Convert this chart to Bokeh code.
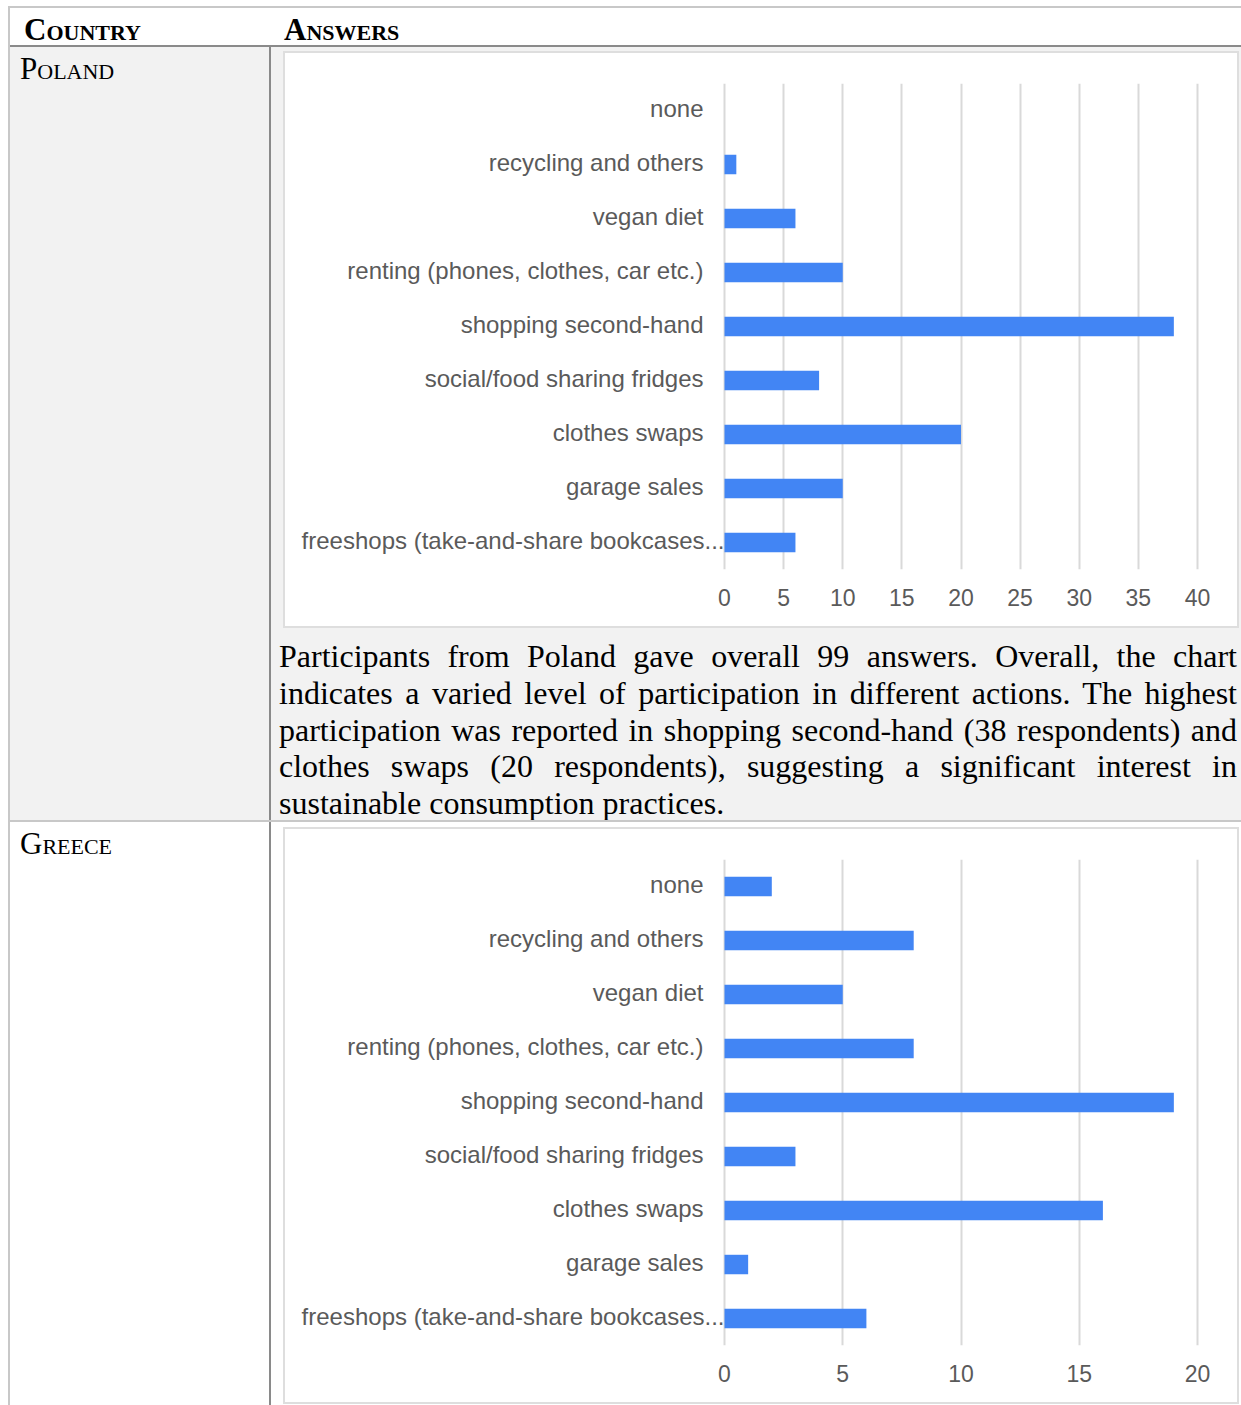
from bokeh.plotting import figure
from bokeh.models import ColumnDataSource, Range1d, FactorRange, FixedTicker, Div
from bokeh.core.properties import value
from bokeh.layouts import column, row
from bokeh.embed import file_html
from bokeh.resources import INLINE

# ---- data -------------------------------------------------------------
categories = [
    "none",
    "recycling and others",
    "vegan diet",
    "renting (phones, clothes, car etc.)",
    "shopping second-hand",
    "social/food sharing fridges",
    "clothes swaps",
    "garage sales",
    "freeshops (take-and-share bookcases...",
]
poland_counts = [0, 1, 6, 10, 38, 8, 20, 10, 6]
greece_counts = [2, 8, 5, 8, 19, 3, 16, 1, 6]
poland_ticks = [0, 5, 10, 15, 20, 25, 30, 35, 40]
greece_ticks = [0, 5, 10, 15, 20]

header_country = "Country"
header_answers = "Answers"
countries = ["Poland", "Greece"]
poland_text = (
    "Participants from Poland gave overall 99 answers. Overall, the chart "
    "indicates a varied level of participation in different actions. The highest "
    "participation was reported in shopping second-hand (38 respondents) and "
    "clothes swaps (20 respondents), suggesting a significant interest in "
    "sustainable consumption practices."
)

# ---- styling ----------------------------------------------------------
BAR = "#4285f4"
GRID = "#d9d9d9"
LABEL = "#5a5a5a"
SANS = "Liberation Sans"
SERIF = "Liberation Serif"
ROW_GREY = "#f2f2f2"
LINE_LIGHT = "#c8c8c8"
LINE_DARK = "#8a8a8a"
BOX = "#dedede"

# chart geometry (pixels)
FIG_W, FIG_H = 952, 573
BORDER_L, BORDER_R = 10, 38     # canvas space left/right of the plot frame
ZERO_PX = 429                   # position of the value 0 inside the frame
SPAN_PX = 473                   # pixel length of the 0..max interval
LABEL_GAP = 21                  # gap between category label and the 0 line


def block(w, h, color):
    return Div(text="", width=w, height=h, margin=0,
               styles={"background-color": color})


def bar_chart(counts, ticks):
    frame_w = FIG_W - BORDER_L - BORDER_R
    per_unit = SPAN_PX / ticks[-1]
    x_range = Range1d(-ZERO_PX / per_unit, (frame_w - ZERO_PX) / per_unit)

    # truncated labels are drawn flush against the axis
    offsets = [0 if c.endswith("...") else -LABEL_GAP for c in categories]
    src = ColumnDataSource(dict(cat=categories, n=counts, dx=offsets,
                                zero=[0] * len(categories)))
    p = figure(
        width=FIG_W, height=FIG_H,
        y_range=FactorRange(factors=categories[::-1]),
        x_range=x_range,
        output_backend="svg", toolbar_location=None, title=None,
        min_border_left=BORDER_L, min_border_right=BORDER_R,
        min_border_top=30, min_border_bottom=57,
    )
    p.background_fill_color = "white"
    p.border_fill_color = "white"
    p.outline_line_color = None

    p.hbar(y="cat", left=0, right="n", height=0.36, source=src,
           fill_color=BAR, line_color=None)

    p.text(x="zero", y="cat", text="cat", x_offset="dx", y_offset=-2, source=src,
           text_align="right", text_baseline="middle",
           text_font=value(SANS), text_font_size="24px", text_color=LABEL)

    p.ygrid.visible = False
    p.xgrid.ticker = FixedTicker(ticks=ticks)
    p.xgrid.grid_line_color = GRID
    p.xgrid.grid_line_width = 2
    p.xaxis.ticker = FixedTicker(ticks=ticks)
    p.xaxis.axis_line_color = None
    p.xaxis.major_tick_line_color = None
    p.xaxis.minor_tick_line_color = None
    p.xaxis.major_label_standoff = 13
    p.xaxis.major_label_text_font = SANS
    p.xaxis.major_label_text_font_size = "23px"
    p.xaxis.major_label_text_color = LABEL
    p.yaxis.visible = False
    return p


def chart_box(p):
    return column(
        block(FIG_W + 4, 2, BOX),
        row(block(2, FIG_H, BOX), p, block(2, FIG_H, BOX), spacing=0),
        block(FIG_W + 4, 2, BOX),
        spacing=0,
    )


def cell_text(text, w, h, bg, pad_left, bold=False):
    weight = "bold" if bold else "normal"
    html = (
        f'<div style="font-family:\'{SERIF}\'; font-size:31px; line-height:31px; '
        f'font-variant:small-caps; font-weight:{weight}; color:#000; '
        f'padding-top:6px; padding-left:{pad_left}px; white-space:nowrap;">{text}</div>'
    )
    return Div(text=html, width=w, height=h, margin=0,
               styles={"background-color": bg})


poland_chart = bar_chart(poland_counts, poland_ticks)
greece_chart = bar_chart(greece_counts, greece_ticks)

para_html = (
    f'<div style="font-family:\'{SERIF}\'; font-size:32px; line-height:36.8px; '
    f'text-align:justify; color:#000; padding:0 4px 0 8px;">{poland_text}</div>'
)
paragraph = Div(text=para_html, width=970, height=182, margin=0,
                styles={"background-color": ROW_GREY})

poland_right = column(
    block(970, 4, ROW_GREY),
    row(block(12, 577, ROW_GREY), chart_box(poland_chart), block(2, 577, ROW_GREY), spacing=0),
    block(970, 10, ROW_GREY),
    paragraph,
    spacing=0,
)

greece_right = column(
    block(970, 5, "white"),
    row(block(12, 577, "white"), chart_box(greece_chart), block(2, 577, "white"), spacing=0),
    block(970, 1, "white"),
    spacing=0,
)

table = column(
    block(1231, 2, LINE_LIGHT),
    row(cell_text(header_country, 261, 37, "white", 14, bold=True),
        cell_text(header_answers, 970, 37, "white", 13, bold=True), spacing=0),
    block(1231, 2, LINE_DARK),
    row(cell_text(countries[0], 259, 773, ROW_GREY, 10),
        block(2, 773, LINE_DARK), poland_right, spacing=0),
    block(1231, 2, LINE_LIGHT),
    row(cell_text(countries[1], 259, 583, "white", 10),
        block(2, 583, LINE_DARK), greece_right, spacing=0),
    spacing=0,
)

page = column(
    block(1241, 6, "white"),
    row(block(8, 1399, "white"), block(2, 1399, LINE_LIGHT), table, spacing=0),
    spacing=0,
    styles={"background-color": "white"},
)

open("out.html", "w").write(file_html(page, INLINE))
